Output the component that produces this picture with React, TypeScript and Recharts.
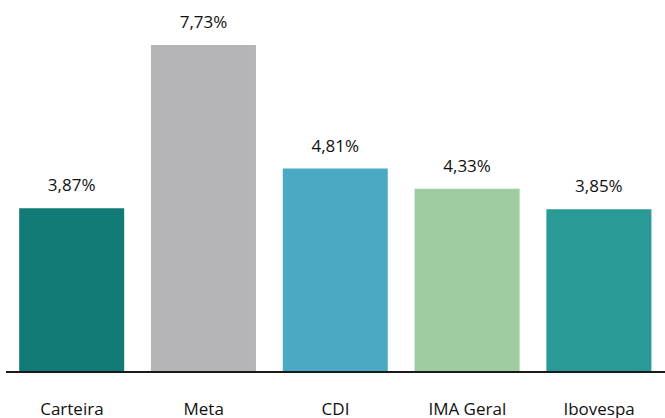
import { BarChart, Bar, XAxis, YAxis, Cell, LabelList } from "recharts";

const CATEGORIES = ["Carteira", "Meta", "CDI", "IMA Geral", "Ibovespa"];
const VALUES = [3.87, 7.73, 4.81, 4.33, 3.85];
const COLORS = ["#127a74", "#b5b5b7", "#4aaac4", "#9ecba0", "#299a96"];

const data = CATEGORIES.map((name, i) => ({ name, value: VALUES[i] }));

const fmt = (v: number) => v.toFixed(2).replace(".", ",") + "%";

export default function App() {
  return (
    <div style={{ position: "absolute", left: 0, top: 0, fontFamily: "'Open Sans', sans-serif" }}>
      <BarChart
        width={665}
        height={418}
        data={data}
        margin={{ top: 45, right: 0, left: 6, bottom: 0 }}
        barCategoryGap="10%"
      >
        <XAxis
          dataKey="name"
          height={46}
          axisLine={{ stroke: "#1a1a1a", strokeWidth: 2 }}
          tickLine={false}
          tickMargin={25}
          tick={{ fill: "#111111", fontSize: 17 }}
          interval={0}
        />
        <YAxis hide domain={[0, "dataMax"]} />
        <Bar dataKey="value" isAnimationActive={false}>
          {data.map((d, i) => (
            <Cell key={d.name} fill={COLORS[i]} />
          ))}
          <LabelList
            dataKey="value"
            position="top"
            offset={17}
            formatter={(v: any) => fmt(Number(v))}
            style={{ fill: "#111111", fontSize: 17 }}
          />
        </Bar>
      </BarChart>
    </div>
  );
}
